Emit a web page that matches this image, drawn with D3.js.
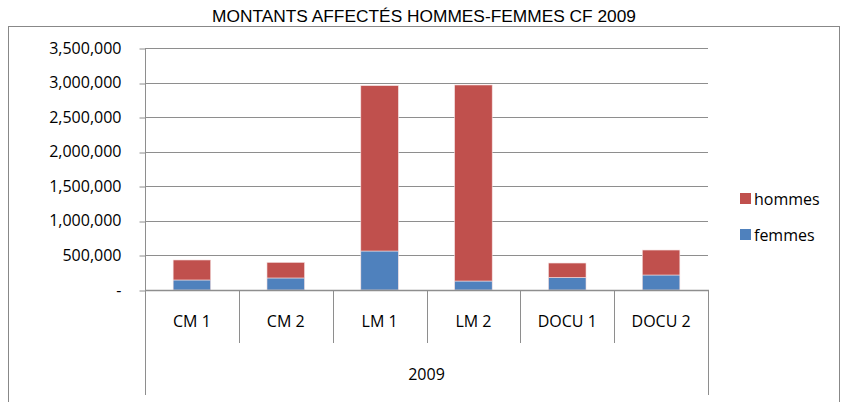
<!DOCTYPE html>
<html>
<head>
<meta charset="utf-8">
<script src="https://cdn.jsdelivr.net/npm/d3@7"></script>
<style>
  body { margin: 0; background: #fff; }
  svg { display: block; font-family: "Open Sans", "Liberation Sans", sans-serif; }
</style>
</head>
<body>
<svg id="chart"></svg>
<script>
// data
const categories = ["CM 1", "CM 2", "LM 1", "LM 2", "DOCU 1", "DOCU 2"];
const femmes = [145000, 174000, 564000, 130000, 182000, 217000];
const hommes = [289000, 225000, 2391000, 2835000, 208000, 361000];
const yTicks = [0, 500000, 1000000, 1500000, 2000000, 2500000, 3000000, 3500000];
const seriesNames = ["femmes", "hommes"];
const yearLabel = "2009";
const title = "MONTANTS AFFECTÉS HOMMES-FEMMES CF 2009";

// layout
const W = 847, H = 402;
const plot = {left: 145, right: 708, top: 48, bottom: 290};
const colors = {femmes: "#4F81BD", hommes: "#C0504D"};
const gridColor = "#8e8e8e";
const fontStack = '"Open Sans", "Liberation Sans", sans-serif';

const svg = d3.select('#chart')
    .attr('width', W)
    .attr('height', H);

// outer chart frame
svg.append('rect')
    .attr('x', 8.5).attr('y', 26.5)
    .attr('width', 831).attr('height', 400)
    .attr('fill', 'none')
    .attr('stroke', '#888')
    .attr('stroke-width', 1);

// title
svg.append('text')
    .attr('x', 424).attr('y', 22)
    .attr('text-anchor', 'middle')
    .style('font-family', '"Liberation Sans Narrow", "Liberation Sans", sans-serif')
    .style('font-size', '16px')
    .attr('textLength', 424)
    .attr('lengthAdjust', 'spacingAndGlyphs')
    .attr('fill', '#000')
    .text(title);

const table = categories.map(function(c, i) {
  return {cat: c, femmes: femmes[i], hommes: hommes[i]};
});

const x = d3.scaleBand()
    .domain(categories)
    .range([plot.left, plot.right])
    .paddingInner(0)
    .paddingOuter(0);

const y = d3.scaleLinear()
    .domain([0, 3500000])
    .range([plot.bottom, plot.top]);

// gridlines
svg.append('g')
    .selectAll('line')
    .data(yTicks.filter(d => d > 0))
    .enter()
    .append('line')
    .attr('x1', plot.left).attr('x2', plot.right)
    .attr('y1', d => Math.round(y(d)) + 0.5)
    .attr('y2', d => Math.round(y(d)) + 0.5)
    .attr('stroke', gridColor)
    .attr('stroke-width', 1);

// y axis
const fmt = d3.format(",");
const yAxis = svg.append('g')
    .attr('transform', 'translate(' + (plot.left + 0.5) + ',0)')
    .call(d3.axisLeft(y)
        .tickValues(yTicks)
        .tickSize(6)
        .tickPadding(18)
        .tickFormat(d => d === 0 ? "-" : fmt(d)));
yAxis.selectAll('.tick line').attr('stroke', gridColor)
    .attr('transform', function(d) { return 'translate(0,' + (Math.round(y(d)) + 0.5 - y(d)) + ')'; });
yAxis.select('.domain').attr('stroke', gridColor).attr('d', 'M0,' + plot.top + 'V' + (plot.bottom + 0.5));
yAxis.selectAll('.tick text')
    .style('font-size', '16px')
    .style('font-family', fontStack)
    .attr('fill', '#000');

// stacked bars
const stack = d3.stack().keys(seriesNames);
const stacked = stack(table);
const barW = x.bandwidth() * 0.4;

svg.append('g')
    .selectAll('g')
    .data(stacked)
    .enter()
    .append('g')
    .attr('fill', d => colors[d.key])
    .selectAll('rect')
    .data(d => d)
    .enter()
    .append('rect')
    .attr('x', d => x(d.data.cat) + (x.bandwidth() - barW) / 2)
    .attr('y', d => y(d[1]))
    .attr('width', barW)
    .attr('height', d => y(d[0]) - y(d[1]))
    .attr('stroke', '#f4dede')
    .attr('stroke-width', 0.6);

// category axis (two levels)
const xg = svg.append('g');
xg.append('line')
    .attr('x1', plot.left).attr('x2', plot.right + 1)
    .attr('y1', plot.bottom + 0.5).attr('y2', plot.bottom + 0.5)
    .attr('stroke', gridColor).attr('stroke-width', 1.5);

// dividers between categories
const edges = categories.map(c => x(c)).concat([plot.right]);
xg.selectAll('line.div')
    .data(edges)
    .enter()
    .append('line')
    .attr('class', 'div')
    .attr('x1', d => Math.round(d) + 0.5).attr('x2', d => Math.round(d) + 0.5)
    .attr('y1', plot.bottom)
    .attr('y2', (d, i) => (i === 0 || i === edges.length - 1) ? 395 : 343)
    .attr('stroke', gridColor).attr('stroke-width', 1);

xg.selectAll('text.cat')
    .data(categories)
    .enter()
    .append('text')
    .attr('class', 'cat')
    .attr('x', d => x(d) + x.bandwidth() / 2)
    .attr('y', 327)
    .attr('text-anchor', 'middle')
    .style('font-size', '16px')
    .attr('fill', '#000')
    .text(d => d);

xg.append('text')
    .attr('x', (plot.left + plot.right) / 2)
    .attr('y', 380)
    .attr('text-anchor', 'middle')
    .style('font-size', '16px')
    .attr('fill', '#000')
    .text(yearLabel);

// legend (hommes on top)
const legendItems = seriesNames.slice().reverse();
const legend = svg.append('g')
    .selectAll('g')
    .data(legendItems)
    .enter()
    .append('g')
    .attr('transform', (d, i) => 'translate(740,' + (193 + i * 36) + ')');
legend.append('rect')
    .attr('width', 11).attr('height', 11)
    .attr('fill', d => colors[d]);
legend.append('text')
    .attr('x', 14).attr('y', 12)
    .style('font-size', '16px')
    .attr('fill', '#000')
    .text(d => d);
</script>
</body>
</html>
